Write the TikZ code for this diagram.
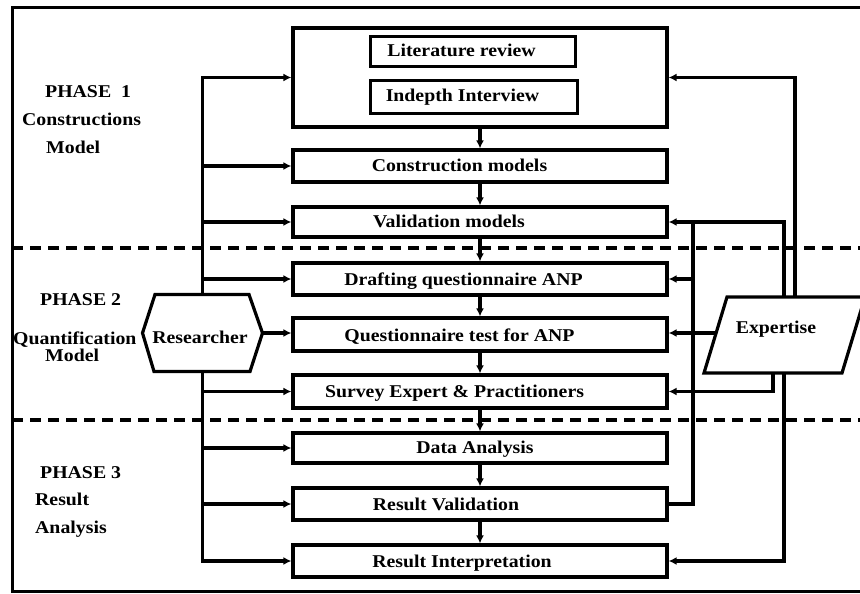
\documentclass[tikz,border=0pt]{standalone}
\usepackage{fontspec}
\setmainfont{Liberation Serif}[FakeStretch=1.1]
\usetikzlibrary{arrows.meta,calc}
\begin{document}
\begin{tikzpicture}[x=1pt,y=-1pt,
  box/.style={draw,line width=3.2pt,minimum width=374pt,inner sep=0pt},
  ibox/.style={draw,line width=3pt,inner sep=0pt},
  txt/.style={font=\bfseries\fontsize{18}{20}\selectfont,inner sep=0pt,anchor=base},
  ltxt/.style={txt,anchor=base west},
  ln/.style={line width=3.4pt},
  arr/.style={ln,-{Latex[length=8pt,width=8pt]}},
  sep/.style={line width=3.4pt,dash pattern=on 11pt off 7pt},
]
\useasboundingbox (0,0) rectangle (860,594);
\fill[white] (0,0) rectangle (860,594);

% outer frame
\draw[line width=3pt] (875,8) -- (12,8) -- (12,591) -- (875,591);

% phase separators
\draw[sep] (12,248) -- (860,248);
\draw[sep] (12,420) -- (860,420);

% left labels
\node[ltxt] (p1) at (45,97) {PHASE\ \ 1};
\node[ltxt] (p1a) at (22,125) {Constructions};
\node[ltxt] (p1b) at (46,153) {Model};
\node[ltxt] (p2) at (40,305) {PHASE 2};
\node[ltxt] (p2a) at (13,344) {Quantification};
\node[ltxt] (p2b) at (45,361.5) {Model};
\node[ltxt] (p3) at (40,478) {PHASE 3};
\node[ltxt] (p3a) at (35,505) {Result};
\node[ltxt] (p3b) at (35,533) {Analysis};

% main boxes
\node[box,minimum height=99pt] (big) at (480,77.5) {};
\node[ibox,minimum width=205pt,minimum height=30pt] (lit) at (472.5,52) {};
\node[ibox,minimum width=207pt,minimum height=32pt] (ind) at (473.5,97) {};
\node[box,minimum height=32pt] (cm) at (480,166) {};
\node[box,minimum height=30pt] (vm) at (480,222) {};
\node[box,minimum height=32pt] (dq) at (480,279) {};
\node[box,minimum height=33pt] (qt) at (480,334.5) {};
\node[box,minimum height=33pt] (se) at (480,391.5) {};
\node[box,minimum height=30pt] (da) at (480,448) {};
\node[box,minimum height=32pt] (rv) at (480,504) {};
\node[box,minimum height=32pt] (ri) at (480,561) {};

% box texts
\node[txt] (tlit) at (461.5,57) {Literature review};
\node[txt] (tind) at (462.5,102) {Indepth Interview};
\node[txt] (tcm) at (459.5,171.5) {Construction models};
\node[txt] (tvm) at (449,227.5) {Validation models};
\node[txt] (tdq) at (463.5,285) {Drafting questionnaire ANP};
\node[txt] (tqt) at (459.5,341) {Questionnaire test for ANP};
\node[txt] (tse) at (454.5,397) {Survey Expert \& Practitioners};
\node[txt] (tda) at (475,453.5) {Data Analysis};
\node[txt] (trv) at (446,510.5) {Result Validation};
\node[txt] (tri) at (462,567) {Result Interpretation};

% vertical flow
\draw[arr] (big.south) -- (cm.north);
\draw[arr] (cm.south) -- (vm.north);
\draw[arr] (vm.south) -- (dq.north);
\draw[arr] (dq.south) -- (qt.north);
\draw[arr] (qt.south) -- (se.north);
\draw[arr] (se.south) -- (da.north);
\draw[arr] (da.south) -- (rv.north);
\draw[arr] (rv.south) -- (ri.north);

% Researcher hexagon
\node[minimum width=120pt,minimum height=77pt,inner sep=0pt,outer sep=0pt] (res) at (202.5,333) {};
\draw[line width=3.2pt] (res.west) -- ($(res.north west)+(12.5,0)$) -- ($(res.north east)+(-13.5,0)$)
  -- (res.east) -- ($(res.south east)+(-12.5,0)$) -- ($(res.south west)+(11.5,0)$) -- cycle;
\node[txt] (tres) at (200,343) {Researcher};

% researcher trunk
\draw[arr] (res.north) |- (big.west);
\draw[arr] (res.north |- cm.west) -- (cm.west);
\draw[arr] (res.north |- vm.west) -- (vm.west);
\draw[arr] (res.north |- dq.west) -- (dq.west);
\draw[arr] (res.east) -- (res.east -| qt.west);
\draw[arr] (res.south) |- (ri.west);
\draw[arr] (res.south |- se.west) -- (se.west);
\draw[arr] (res.south |- da.west) -- (da.west);
\draw[arr] (res.south |- rv.west) -- (rv.west);

% Expertise parallelogram
\coordinate (eTL) at (727,297);
\coordinate (eTR) at (865,297);
\coordinate (eBR) at (842,373);
\coordinate (eBL) at (704,373);
\draw[line width=3.2pt] (eTL) -- (eTR) -- (eBR) -- (eBL) -- cycle;
\node[txt] (texp) at (776,333) {Expertise};
\coordinate (eT1) at (784,297);
\coordinate (eT2) at (795,297);
\coordinate (eB1) at (773,373);
\coordinate (eB2) at (784,373);
\coordinate (eL) at (716,333);
\coordinate (fb) at (693,222);

% expertise feedback
\draw[arr] (eT2) |- (big.east);
\draw[arr] (eT1) |- (vm.east);
\draw[arr] (eL) -- (eL -| qt.east);
\draw[arr] (eB1) |- (se.east);
\draw[arr] (eB2) |- (ri.east);
\draw[ln] (rv.east) -| (fb);
\draw[arr] (fb |- dq.east) -- (dq.east);
\end{tikzpicture}
\end{document}
